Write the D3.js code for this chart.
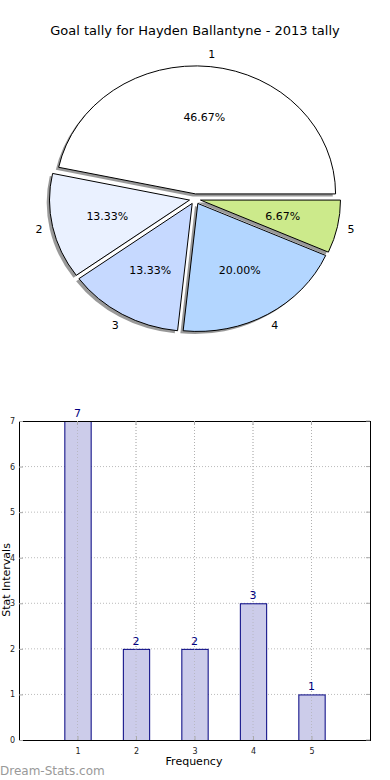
<!DOCTYPE html>
<html>
<head>
<meta charset="utf-8">
<script src="https://cdn.jsdelivr.net/npm/d3@7"></script>
<style>
  body { margin:0; background:#fff; }
  svg { display:block; font-family:"DejaVu Sans", sans-serif; }
</style>
</head>
<body>
<svg id="chart" width="390" height="780"></svg>
<script>
// data
const categories = ['1', '2', '3', '4', '5'];
const tally = [7, 2, 2, 3, 1];
const sliceColors = ['#ffffff', '#eaf1ff', '#c6d9ff', '#b3d6ff', '#ccea8b'];
const yTicks = [0, 1, 2, 3, 4, 5, 6, 7];
const xTicks = [1, 2, 3, 4, 5];

const svg = d3.select('#chart');
const total = d3.sum(tally);

// title
svg.append('text')
  .attr('x', 195).attr('y', 35)
  .attr('text-anchor', 'middle')
  .attr('font-size', 13)
  .text('Goal tally for Hayden Ballantyne - 2013 tally');

/* pie (matplotlib style: ccw from 3 o'clock, squashed, exploded, shadow) */
const cx = 195, cy = 199, rx = 140, ry = 128, explode = 0.04;
const pie = d3.pie().sort(null).startAngle(Math.PI/2).endAngle(Math.PI/2 - 2*Math.PI);
const arcs = pie(tally);
const arc = d3.arc().innerRadius(0).outerRadius(rx);

function offset(d, k){
  const m = (d.startAngle + d.endAngle)/2;
  return [Math.sin(m)*k*rx, -Math.cos(m)*k*rx];
}

const pieG = svg.append('g').attr('transform', `translate(${cx},${cy}) scale(1,${ry/rx})`);

// shadows first
pieG.selectAll('.shadow')
  .data(arcs)
  .join('path')
  .attr('class', 'shadow')
  .attr('d', arc)
  .attr('transform', d => { const o = offset(d, explode); return `translate(${o[0]-2.8},${o[1]+2.8})`; })
  .attr('fill', '#555')
  .attr('fill-opacity', 0.6);

pieG.selectAll('.wedge')
  .data(arcs)
  .join('path')
  .attr('class', 'wedge')
  .attr('d', arc)
  .attr('transform', d => { const o = offset(d, explode); return `translate(${o[0]},${o[1]})`; })
  .attr('fill', (d, i) => sliceColors[i])
  .attr('stroke', '#000')
  .attr('stroke-width', 1)
  .attr('vector-effect', 'non-scaling-stroke');

// labels (placed in screen space)
function labelPos(d, k){
  const m = (d.startAngle + d.endAngle)/2;
  const o = offset(d, explode);
  return [cx + o[0] + Math.sin(m)*k*rx, cy + (o[1] - Math.cos(m)*k*rx)*ry/rx];
}
svg.selectAll('.cat')
  .data(arcs)
  .join('text')
  .attr('class', 'cat')
  .attr('x', d => labelPos(d, 1.1)[0])
  .attr('y', d => labelPos(d, 1.1)[1])
  .attr('dy', '0.35em')
  .attr('text-anchor', 'middle')
  .attr('font-size', 11)
  .text((d, i) => categories[i]);

svg.selectAll('.pct')
  .data(arcs)
  .join('text')
  .attr('class', 'pct')
  .attr('x', d => labelPos(d, 0.6)[0])
  .attr('y', d => labelPos(d, 0.6)[1])
  .attr('dy', '0.35em')
  .attr('text-anchor', 'middle')
  .attr('font-size', 11)
  .text(d => (d.value/total*100).toFixed(2) + '%');

/* bar chart */
const L = 19, R = 370, T = 421, B = 740;
const x = d3.scaleLinear().domain([0, 6]).range([L, R]);
const y = d3.scaleLinear().domain([0, 7]).range([B, T]);
const barG = svg.append('g');

// grid
barG.selectAll('.gx').data(xTicks).join('line')
  .attr('x1', d => x(d)).attr('x2', d => x(d)).attr('y1', T).attr('y2', B)
  .attr('stroke', '#bbb').attr('stroke-dasharray', '1,2');
barG.selectAll('.gy').data(yTicks.slice(1, -1)).join('line')
  .attr('x1', L).attr('x2', R).attr('y1', d => y(d)).attr('y2', d => y(d))
  .attr('stroke', '#bbb').attr('stroke-dasharray', '1,2');

// bars
const barW = 0.45;
barG.selectAll('.bar').data(tally).join('rect')
  .attr('x', (d, i) => x(xTicks[i] - barW/2) + 0.5)
  .attr('y', d => y(d) + 0.5)
  .attr('width', x(barW) - x(0))
  .attr('height', d => y(0) - y(d))
  .attr('fill', '#ccccea')
  .attr('stroke', '#000080')
  .attr('stroke-width', 1);

// grid over bars (matplotlib draws grid on top here)
barG.selectAll('.gx2').data(xTicks).join('line')
  .attr('x1', d => x(d)).attr('x2', d => x(d)).attr('y1', T).attr('y2', B)
  .attr('stroke', '#aaa').attr('stroke-opacity', 0.6).attr('stroke-dasharray', '1,2');

barG.selectAll('.val').data(tally).join('text')
  .attr('x', (d, i) => x(xTicks[i]))
  .attr('y', d => y(d) - 4)
  .attr('text-anchor', 'middle')
  .attr('font-size', 11)
  .attr('fill', '#000080')
  .text(d => d);

// frame
barG.append('rect')
  .attr('x', L + 0.5).attr('y', T + 0.5)
  .attr('width', R - L).attr('height', B - T)
  .attr('fill', 'none').attr('stroke', '#000').attr('stroke-width', 1);

// axes via d3
const xAxis = d3.axisBottom(x).tickValues(xTicks).tickFormat(d3.format('d')).tickSize(4).tickPadding(4);
const yAxis = d3.axisLeft(y).tickValues(yTicks).tickFormat(d3.format('d')).tickSize(4).tickPadding(0);
const gxAx = svg.append('g').attr('transform', `translate(0,${B})`).call(xAxis);
const gyAx = svg.append('g').attr('transform', `translate(${L},0)`).call(yAxis);
[gxAx, gyAx].forEach(g => {
  g.select('.domain').remove();
  g.selectAll('text').attr('font-size', 8).attr('font-family', '"DejaVu Sans", sans-serif').attr('fill', '#222');
  g.selectAll('.tick line').attr('stroke', '#aaa');
});
// move ticks inward
gxAx.selectAll('.tick line').attr('y2', -4);
gyAx.selectAll('.tick line').attr('x2', 4);
// ticks on top and right
barG.selectAll('.tt').data(xTicks).join('line')
  .attr('x1', d => x(d)).attr('x2', d => x(d)).attr('y1', T).attr('y2', T + 4).attr('stroke', '#aaa');
barG.selectAll('.tr').data(yTicks).join('line')
  .attr('x1', R - 4).attr('x2', R).attr('y1', d => y(d)).attr('y2', d => y(d)).attr('stroke', '#aaa');

svg.append('text')
  .attr('x', 194).attr('y', 765)
  .attr('text-anchor', 'middle')
  .attr('font-size', 11)
  .text('Frequency');

svg.append('text')
  .attr('transform', 'translate(9.5,580) rotate(-90)')
  .attr('text-anchor', 'middle')
  .attr('font-size', 11)
  .text('Stat Intervals');

svg.append('text')
  .attr('x', 0).attr('y', 775)
  .attr('font-size', 12)
  .attr('fill', '#999')
  .text('Dream-Stats.com');
</script>
</body>
</html>
